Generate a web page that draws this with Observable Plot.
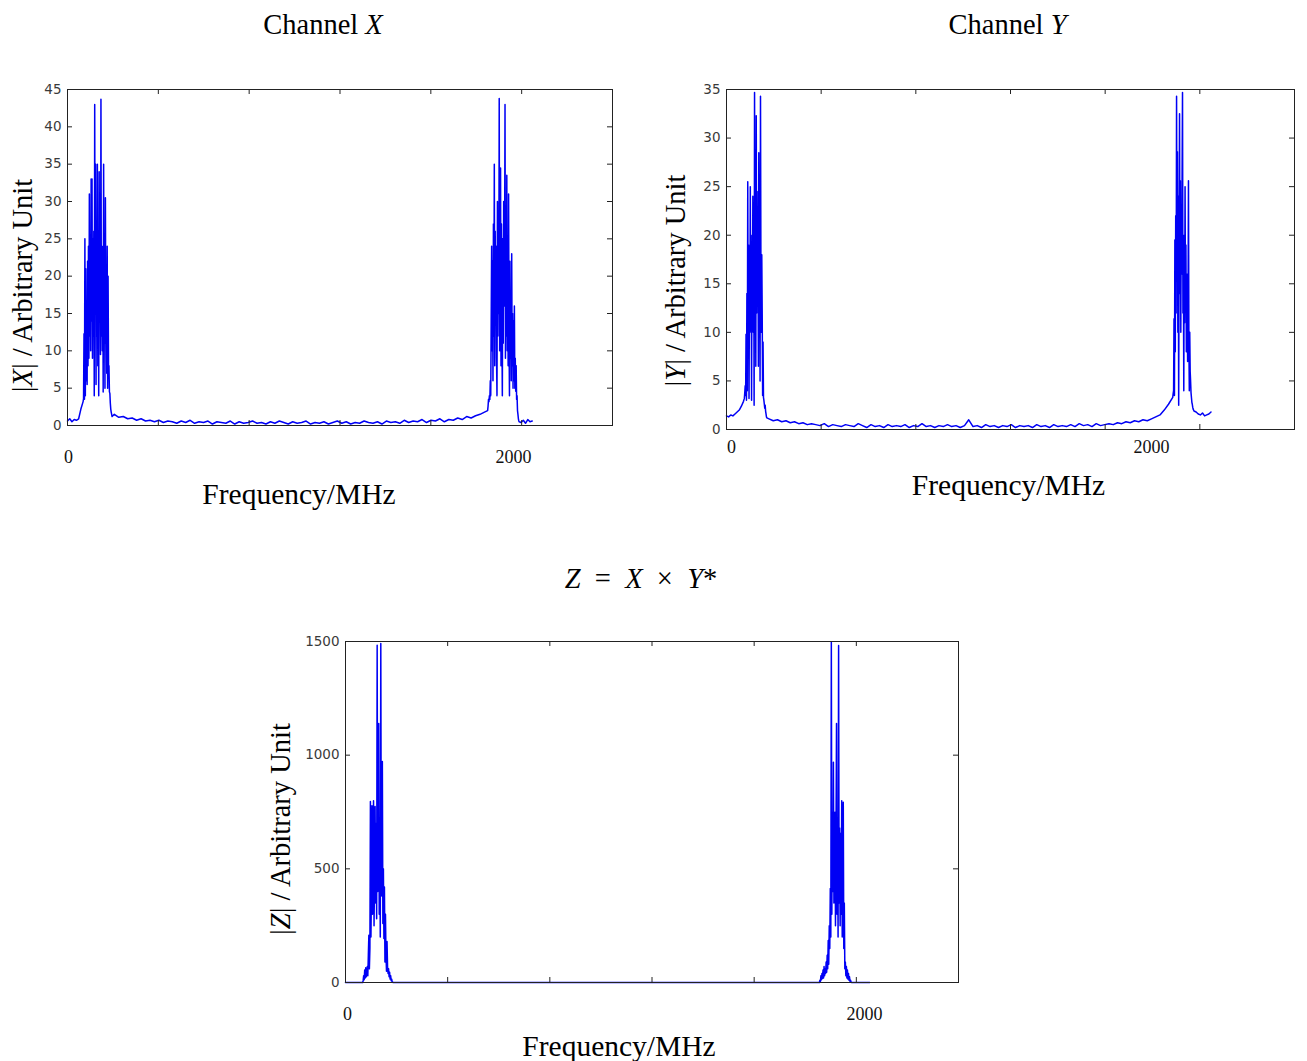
<!DOCTYPE html>
<html><head><meta charset="utf-8">
<script src="https://cdn.jsdelivr.net/npm/d3@7"></script>
<script src="https://cdn.jsdelivr.net/npm/@observablehq/plot@0.6"></script>
<style>
body{margin:0;background:#fff;}
#wrap{position:relative;width:1307px;height:1061px;background:#fff;overflow:hidden;}
#wrap svg{position:absolute;}
</style></head><body><div id="wrap"></div>
<script>
// ---------------- DATA ----------------
// Channel X : |X| spectrum, segments [start MHz, step MHz, values]
const xFloorA = [0.6,0.9,0.5,0.8,0.7,0.9,2.2];                 // 0..60 step 10
const xPeakA  = [3.2,3.6,12.3,3.5,25,4,21,6,15,5.5,
                 22,8,24,9,31,12,22,10,33,14,
                 33,9,25,12,26,4,43,15,35,5.5,
                 27,12,35,8,26,4,34,14,26,9.5,
                 43.7,12,19,10,24,4.5,35,12,20,5,
                 30.5,11,21,7,24,5,20,8,8,4.5,
                 4.3,3,2.2,1.8,1.5,1.2];                          // 70..200 step 2
const xFloorB = [1.5,1.1,1.2,0.9,1.0,0.7,0.9,0.6,0.7,0.5,
                 0.7,0.4,0.6,0.5,0.3,0.6,0.4,0.7,0.3,0.5,
                 0.4,0.6,0.2,0.5,0.4,0.3,0.6,0.2,0.5,0.3,
                 0.4,0.6,0.3,0.4,0.2,0.5,0.3,0.6,0.4,0.2,
                 0.5,0.3,0.4,0.6,0.2,0.4,0.3,0.5,0.2,0.4,
                 0.6,0.3,0.5,0.2,0.4,0.3,0.6,0.4,0.3,0.5,
                 0.2,0.6,0.4,0.5,0.3,0.7,0.4,0.6,0.5,0.8,
                 0.4,0.7,0.6,0.9,0.5,0.8,0.7,1.0,0.8,1.2,
                 1.0,1.3,1.5,1.8];                                 // 210..1870 step 20
const xPeakB  = [2.0,2.6,3.5,3.2,4,3.5,6,4,14,24,
                 10,22,6,27,12,35,8,26,14,24,
                 9,4,30,12,26,15,43.8,10,22,34.5,
                 8,27,13,4,25,11,30,16,22,43,
                 9,26,12,33.5,10,24,8,31,12,4,
                 22,9,18,6,23,8,15,5,14,6,
                 16,5,9,4.6,8,3.5,4,2,1.5,0.9,
                 0.6,0.5];                                         // 1884..2026 step 2
const xTail   = [0.4,0.7,0.3,0.8,0.5,0.6];                        // 2034..2084 step 10

// Channel Y : |Y| spectrum
const yFloorA = [1.4,1.3,1.5,1.4,1.6,1.8,2.0,2.4,2.9];          // 0..80 step 10
const yPeakA  = [3.2,3.8,4.5,3.5,9.8,3.0,14,4,25.5,10,
                 19,3.2,14,10,25,12,20,3,18,12,
                 24,10,20,2.5,34.7,14,24,6.5,32.3,12,
                 24.5,15,22,6.5,28.5,13,20,5,34.3,16.7,
                 10,18,12,3.5,9,3.3,3,2.6,2.2,2.5,
                 1.9,1.6,1.3,1.2];                                 // 84..190 step 2
const yFloorB = [1.1,0.9,1.0,0.8,0.9, 0.7,0.8,0.6,0.7,0.5,
                 0.6,0.5,0.4,0.6,0.3, 0.5,0.4,0.3,0.5,0.4,
                 0.3,0.6,0.4,0.2,0.5, 0.3,0.4,0.2,0.5,0.3,
                 0.4,0.3,0.5,0.2,0.4, 0.3,0.6,0.3,0.4,0.2,
                 0.4,0.3,0.5,0.3,0.4, 0.2,0.4,1.0,0.3,0.4,
                 0.2,0.5,0.3,0.4,0.2, 0.4,0.3,0.5,0.2,0.4,
                 0.3,0.4,0.2,0.5,0.3, 0.4,0.2,0.5,0.3,0.4,
                 0.3,0.5,0.3,0.6,0.4, 0.5,0.3,0.6,0.4,0.5,
                 0.6,0.5,0.7,0.6,0.8, 0.7,0.9,0.8,1.0,0.9,
                 1.1,1.3,1.5,2.0,2.6];                             // 200..2080 step 20
const yPeakB  = [3.3,3.7,4,11.4,3.5,19.5,8,22,12,34.3,
                 16,28.6,10,24,2.5,20,32.5,14,25.6,10,
                 22,16,26,34.7,12,18,4,20,11,25,
                 13,19,8,16,14,7,12,25.6,9,4,
                 10,6,5,3.8,3.3,2.8,2.6,2.3,2.1,2.0,
                 1.9];                                             // 2100..2200 step 2
const yTail   = [1.8,1.6,1.5,1.7,1.4,1.5,1.6,1.8];                // 2210..2280 step 10

// Z = X × Y* : |Z| spectrum
const zFloorA = [0,0.3,0.2,0.4,0.3];                              // 0..64 step 16
const zPeakA  = [0,8,30,12,55,20,65,25,40,70,
                 30,120,208,60,150,796,200,420,778,300,
                 500,800,250,480,774,350,700,280,1484,400,
                 700,1139,300,650,200,1491,380,720,972,260,
                 500,194,420,90,300,120,50,180,70,40,
                 60,25,45,15,30,8,15,3,1,0];                       // 66..184 step 2
const zFloorB = [0.4,0.3,0.2,0.3,0.2,0.3,0.2,0.2,0.3,0.2,0.2,0.3,0.2,0.3,0.3,0.4,0.5]; // 200..1800 step 100
const zPeakB  = [0,10,5,30,12,40,18,55,20,70,
                 30,60,40,90,45,120,60,185,80,250,
                 150,413,200,1497,300,749,400,969,350,700,
                 749,250,650,1139,300,700,200,1482,350,680,
                 250,655,300,800,200,600,793,150,350,60,
                 90,30,70,20,55,15,40,10,25,5,
                 10,2,0];                                          // 1826..1950 step 2
const zTail   = [0.4,0.3,0.4,0.2];                                // 1960..2020 step 20

// tick labels
const xTickLabels = [0, 2000];
const yTicksX = [0,5,10,15,20,25,30,35,40,45];
const yTicksY = [0,5,10,15,20,25,30,35];
const yTicksZ = [0,500,1000,1500];

const titles = ["Channel X", "Channel Y", "Z\u2002=\u2002X\u2002×\u2002Y*"];
const yLabels = ["|X| / Arbitrary Unit", "|Y| / Arbitrary Unit", "|Z| / Arbitrary Unit"];
const xLabel = "Frequency/MHz";

// ---------------- BUILD ----------------
function seg(start, step, vals){ return vals.map((v,i)=>({f:start+i*step, v})); }

const dataX = [...seg(0,10,xFloorA), ...seg(70,2,xPeakA), ...seg(210,20,xFloorB), ...seg(1884,2,xPeakB), ...seg(2034,10,xTail)];
const dataY = [...seg(0,10,yFloorA), ...seg(84,2,yPeakA), ...seg(200,20,yFloorB), ...seg(2100,2,yPeakB), ...seg(2210,10,yTail)];
const dataZ = [...seg(0,16,zFloorA), ...seg(66,2,zPeakA), ...seg(200,100,zFloorB), ...seg(1826,2,zPeakB), ...seg(1960,20,zTail)];

const SERIF = "'Liberation Serif','Times New Roman',serif";
const SANS = "'DejaVu Sans','Liberation Sans',Arial,sans-serif";
const BLUE = "#0000f5";
const INK = "#222";

function italicize(svg){
  svg.querySelectorAll("text").forEach(t => {
    const s = t.textContent;
    if (!/Channel|Arbitrary|=/.test(s)) return;
    t.textContent = "";
    for (const ch of s) {
      const ts = document.createElementNS("http://www.w3.org/2000/svg","tspan");
      ts.textContent = ch;
      if (/[XYZ]/.test(ch)) ts.setAttribute("font-style","italic");
      t.appendChild(ts);
    }
  });
}

function panel(c){
  const pw = c.width - c.ml - c.mr, ph = c.height - c.mt - c.mb;
  const tY = c.yMax*5/ph;           // tick length along y (data units)
  const tX = c.xMax*5/pw;           // tick length along x (data units)
  const xt = [1,2,3,4,5].map(i => c.xMax*i/6);
  const xlStyle = {frameAnchor: "bottom", dy: c.xlDy, text: d => String(d), textAnchor: "middle", lineAnchor: "middle", fontSize: 18, fill: "#111", fontFamily: SERIF};
  const svg = Plot.plot({
    width: c.width, height: c.height,
    marginLeft: c.ml, marginRight: c.mr, marginTop: c.mt, marginBottom: c.mb,
    x: {domain: [0, c.xMax], axis: null},
    y: {domain: [0, c.yMax], axis: null},
    style: {background: "transparent", fontFamily: SANS, overflow: "visible"},
    marks: [
      Plot.line(c.data, {x: "f", y: "v", stroke: BLUE, strokeWidth: 1.5}),
      Plot.ruleX(xt, {x: d => d, y1: 0, y2: tY, stroke: INK}),
      Plot.ruleX(xt, {x: d => d, y1: c.yMax - tY, y2: c.yMax, stroke: INK}),
      Plot.ruleY(c.yTicks, {y: d => d, x1: 0, x2: tX, stroke: INK}),
      Plot.ruleY(c.yTicks, {y: d => d, x1: c.xMax - tX, x2: c.xMax, stroke: INK}),
      Plot.frame({stroke: INK}),
      Plot.text(c.yTicks, {x: 0, y: d => d, text: d => String(d), dx: -6, textAnchor: "end", lineAnchor: "middle", fontSize: 13.5, fill: "#3a3a3a", fontFamily: SANS}),
      Plot.text([xTickLabels[0]], {x: d => d, ...xlStyle, dx: c.x0Dx}),
      Plot.text([xTickLabels[1]], {x: d => d, ...xlStyle}),
      Plot.text([c.title], {frameAnchor: "top", text: d => d, dx: c.tDx, dy: c.tDy, textAnchor: "middle", lineAnchor: "middle", fontSize: 28.5, fill: "#000", fontFamily: SERIF}),
      Plot.text([xLabel], {frameAnchor: "bottom", text: d => d, dx: c.fDx, dy: c.fDy, textAnchor: "middle", lineAnchor: "middle", fontSize: 29.5, fill: "#000", fontFamily: SERIF}),
      Plot.text([c.yLabel], {frameAnchor: "left", text: d => d, rotate: -90, dx: c.lDx, dy: c.lDy, textAnchor: "middle", lineAnchor: "middle", fontSize: 28.5, fill: "#000", fontFamily: SERIF})
    ]
  });
  italicize(svg);
  svg.style.left = c.left + "px";
  svg.style.top = c.top + "px";
  document.getElementById("wrap").appendChild(svg);
}

panel({left: 0, top: 0, width: 640, height: 520, ml: 67, mr: 28, mt: 89, mb: 95,
       xMax: 2444, yMax: 45, data: dataX, yTicks: yTicksX, xlDy: 32, x0Dx: 1,
       title: titles[0], tDx: -17, tDy: -65, fDx: -41, fDy: 69, yLabel: yLabels[0], lDx: -45, lDy: 28});
panel({left: 650, top: 0, width: 657, height: 520, ml: 76, mr: 13, mt: 89, mb: 91,
       xMax: 2673, yMax: 35, data: dataY, yTicks: yTicksY, xlDy: 18, x0Dx: 5,
       title: titles[1], tDx: -3, tDy: -65, fDx: -2, fDy: 56, yLabel: yLabels[1], lDx: -51, lDy: 21});
panel({left: 0, top: 530, width: 1307, height: 531, ml: 345, mr: 349, mt: 111, mb: 79,
       xMax: 2362, yMax: 1500, data: dataZ, yTicks: yTicksZ, xlDy: 32, x0Dx: 2,
       title: titles[2], tDx: -11, tDy: -63, fDx: -33, fDy: 64, yLabel: yLabels[2], lDx: -65, lDy: 17});
</script></body></html>
